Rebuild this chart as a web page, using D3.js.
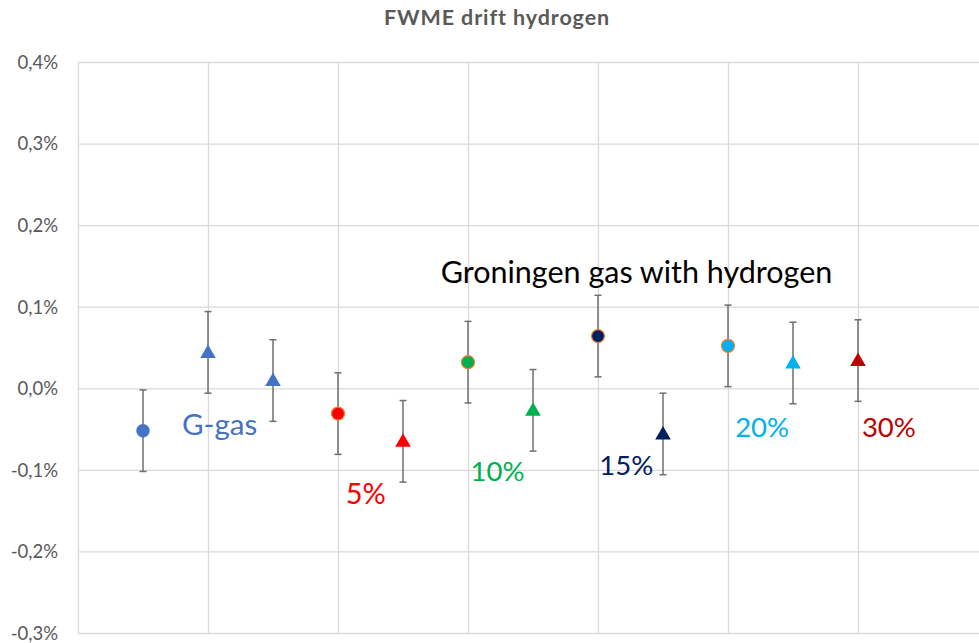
<!DOCTYPE html>
<html>
<head>
<meta charset="utf-8">
<script src="https://cdn.jsdelivr.net/npm/d3@7"></script>
<style>
  html, body { margin: 0; padding: 0; background: #fff; }
  svg { display: block; font-family: Lato, "Open Sans", sans-serif; }
</style>
</head>
<body>
<svg id="chart" width="979" height="643"></svg>
<script>
// ---- data ----
const pointIndex = [1, 2, 3, 4, 5, 6, 7, 8, 9, 10, 11, 12];
const pointValues = [-0.052, 0.044, 0.0095, -0.031, -0.065, 0.032, -0.027, 0.064, -0.056, 0.052, 0.031, 0.034];
const pointErrors = [0.05, 0.05, 0.05, 0.05, 0.05, 0.05, 0.05, 0.05, 0.05, 0.05, 0.05, 0.05];
const pointShapes = ["circle", "triangle", "triangle", "circle", "triangle", "circle", "triangle", "circle", "triangle", "circle", "triangle", "triangle"];
const pointGroups = ["G-gas", "G-gas", "G-gas", "5%", "5%", "10%", "10%", "15%", "15%", "20%", "20%", "30%"];
const groupNames = ["G-gas", "5%", "10%", "15%", "20%", "30%"];
const groupColors = ["#4472C4", "#FF0000", "#00B050", "#002060", "#00B0F0", "#C00000"];
const yTicks = [0.4, 0.3, 0.2, 0.1, 0.0, -0.1, -0.2, -0.3];
const xGridTicks = [0, 2, 4, 6, 8, 10, 12, 14];
// annotation texts with anchor (x index, y value at baseline)
const labelTexts = ["G-gas", "5%", "10%", "15%", "20%", "30%", "Groningen gas with hydrogen"];
const labelX = [1.60, 4.12, 6.04, 8.02, 10.11, 12.06, 5.58];
const labelY = [-0.0573, -0.1423, -0.1136, -0.1064, -0.0595, -0.0595, 0.1295];
const labelColors = ["#4472C4", "#FF0000", "#00B050", "#002060", "#00B0F0", "#C00000", "#000000"];
const titleText = "FWME drift hydrogen";

// ---- layout ----
const svg = d3.select("#chart");
const mLeft = 78, mTop = 62, mBottom = 633;
const x = d3.scaleLinear().domain([0, 14]).range([mLeft, mLeft + 65 * 14]);
const y = d3.scaleLinear().domain([-0.3, 0.4]).range([mBottom, mTop]);
const color = d3.scaleOrdinal().domain(groupNames).range(groupColors);
const fmt = v => d3.format(".1f")(v).replace(".", ",").replace("−", "-") + "%";
const labelSizes = { "G-gas": 29.5, "5%": 29, "Groningen gas with hydrogen": 30.5 };

// title
svg.append("text")
  .attr("x", 497).attr("y", 25)
  .attr("text-anchor", "middle")
  .attr("font-size", 21.5).attr("font-weight", 700)
  .attr("letter-spacing", 0.9)
  .attr("fill", "#595959")
  .text(titleText);

// horizontal gridlines via axis
const yAxis = d3.axisLeft(y).tickValues(yTicks).tickSize(-(979 - mLeft)).tickFormat(fmt).tickPadding(20);
const gy = svg.append("g").attr("transform", `translate(${mLeft},0)`).call(yAxis);
gy.select(".domain").remove();
gy.selectAll(".tick line").attr("stroke", "#d9d9d9").attr("stroke-width", 1.3);
gy.selectAll(".tick text")
  .attr("fill", "#595959").attr("font-size", 18.5)
  .attr("font-family", "Lato, sans-serif")
  .attr("dy", "0.34em");

// vertical gridlines
const xAxis = d3.axisBottom(x).tickValues(xGridTicks).tickSize(-(mBottom - mTop)).tickFormat("");
const gx = svg.append("g").attr("transform", `translate(0,${mBottom})`).call(xAxis);
gx.select(".domain").remove();
gx.selectAll(".tick line").attr("stroke", "#d9d9d9").attr("stroke-width", 1.3);

// error bars
const pts = pointIndex.map((xi, i) => ({ xi, v: pointValues[i], e: pointErrors[i], shape: pointShapes[i], g: pointGroups[i] }));
const eb = svg.append("g");
pts.forEach(p => {
  const cx = x(p.xi);
  eb.append("line").attr("x1", cx).attr("x2", cx).attr("y1", y(p.v + p.e)).attr("y2", y(p.v - p.e))
    .attr("stroke", "#6f6f6f").attr("stroke-width", 1.5);
  [p.v + p.e, p.v - p.e].forEach(v => {
    eb.append("line").attr("x1", cx - 3.5).attr("x2", cx + 3.5).attr("y1", y(v)).attr("y2", y(v))
      .attr("stroke", "#6f6f6f").attr("stroke-width", 1.5);
  });
});

// markers
const mk = svg.append("g");
pts.forEach(p => {
  const cx = x(p.xi), cy = y(p.v);
  if (p.shape === "circle") {
    mk.append("circle").attr("cx", cx).attr("cy", cy).attr("r", 6.5)
      .attr("fill", color(p.g))
      .attr("stroke", p.g === "G-gas" ? color(p.g) : "#ED7D31")
      .attr("stroke-width", p.g === "G-gas" ? 0.5 : 1.2);
  } else {
    const tri = d3.symbol().type(d3.symbolTriangle).size(105);
    mk.append("path").attr("d", tri()).attr("transform", `translate(${cx},${cy + 1})`)
      .attr("fill", color(p.g));
  }
});

// annotations
labelTexts.forEach((t, i) => {
  svg.append("text")
    .attr("x", x(labelX[i])).attr("y", y(labelY[i]))
    .attr("font-size", labelSizes[t] || 27.5)
    .attr("fill", labelColors[i])
    .text(t);
});
</script>
</body>
</html>
